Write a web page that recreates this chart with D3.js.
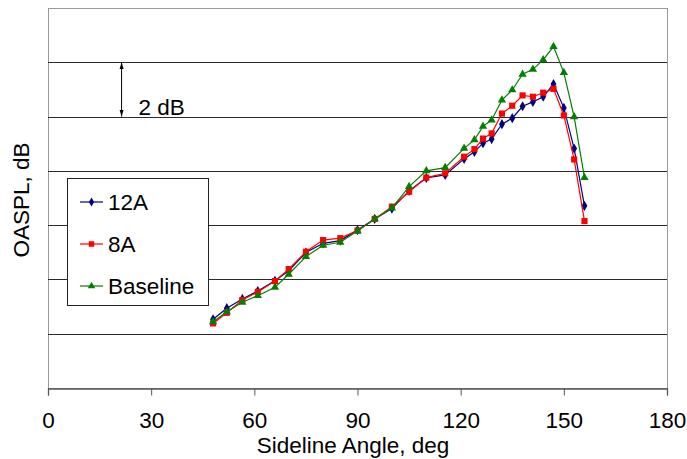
<!DOCTYPE html>
<html>
  <head>
    <meta charset="utf-8" />
    <title>OASPL vs Sideline Angle</title>
    <script src="https://d3js.org/d3.v7.min.js"></script>
    <style>
      body { margin: 0; background: #fff; }
      text { font-family: "Liberation Sans", Arial, sans-serif; }
    </style>
  </head>
  <body>
    <svg id="chart" width="687" height="459"></svg>

    <script>
      // sideline angles, deg
      var angles = [48, 52, 56.5, 61, 66, 70, 75, 80, 85, 90, 95, 100, 105, 110, 115.5,
        121, 124, 126.5, 129, 132, 135, 138, 141, 144, 147, 150, 153, 156];

      // OASPL, dB (relative to chart floor, no absolute scale given)
      var oaspl12A = [2.53, 2.94, 3.28, 3.57, 3.95, 4.32, 4.99, 5.33, 5.43, 5.82, 6.23, 6.61,
        7.26, 7.74, 7.85, 8.44, 8.70, 9.02, 9.17, 9.72, 9.94, 10.38, 10.54, 10.73, 11.20,
        10.32, 8.82, 6.71];
      var oaspl8A = [2.38, 2.77, 3.24, 3.54, 3.94, 4.38, 5.02, 5.45, 5.52, 5.80, 6.23, 6.68,
        7.23, 7.75, 7.91, 8.52, 8.80, 9.19, 9.38, 10.11, 10.40, 10.78, 10.73, 10.88, 11.02,
        10.04, 8.42, 6.15];
      var oasplBase = [2.44, 2.81, 3.16, 3.40, 3.71, 4.19, 4.84, 5.26, 5.37, 5.78, 6.23, 6.63,
        7.42, 8.00, 8.12, 8.83, 9.14, 9.64, 9.87, 10.61, 10.98, 11.56, 11.74, 12.09, 12.58,
        11.62, 9.99, 7.75];

      var xTicks = [0, 30, 60, 90, 120, 150, 180];
      var gridValues = [2, 4, 6, 8, 10, 12];

      var series = [
        { name: "12A", values: oaspl12A, color: "#000080", symbol: d3.symbolDiamond, size: 30 },
        { name: "8A", values: oaspl8A, color: "#ff0000", symbol: d3.symbolSquare, size: 38 },
        { name: "Baseline", values: oasplBase, color: "#008000", symbol: d3.symbolTriangle, size: 30 }
      ];

      var fontSize = 22.5;
      var margin = { left: 48, top: 8, right: 20, bottom: 71 };
      var width = 687 - margin.left - margin.right;
      var height = 459 - margin.top - margin.bottom;

      var svg = d3.select("#chart");
      var g = svg.append("g").attr("transform", "translate(" + margin.left + "," + margin.top + ")");

      var x = d3.scaleLinear().domain([0, 180]).range([0, width]);
      var y = d3.scaleLinear().domain([0, 14]).range([height, 0]);

      // plot frame
      g.append("rect")
        .attr("x", 0.5).attr("y", 0.5)
        .attr("width", width).attr("height", height)
        .attr("fill", "none")
        .attr("stroke", "#9a9a9a");

      // horizontal gridlines
      g.selectAll(".grid")
        .data(gridValues)
        .enter()
        .append("line")
        .attr("class", "grid")
        .attr("x1", 0).attr("x2", width)
        .attr("y1", function (d) { return Math.round(y(d)) + 0.5; })
        .attr("y2", function (d) { return Math.round(y(d)) + 0.5; })
        .attr("stroke", "#2a2a2a")
        .attr("stroke-width", 1);

      // x axis
      var xAxis = g.append("g")
        .attr("transform", "translate(0," + (height + 0.5) + ")")
        .call(d3.axisBottom(x).tickValues(xTicks).tickSize(7).tickPadding(17));
      xAxis.select(".domain").attr("stroke", "#555").attr("stroke-width", 1.3);
      xAxis.selectAll(".tick line").attr("stroke", "#555");
      xAxis.selectAll(".tick text").attr("font-size", fontSize).attr("fill", "#000")
        .style("font-family", "Liberation Sans, Arial, sans-serif");

      // axis titles
      svg.append("text")
        .attr("x", 353)
        .attr("y", 453)
        .attr("text-anchor", "middle")
        .attr("font-size", fontSize)
        .text("Sideline Angle, deg");

      svg.append("text")
        .attr("transform", "translate(29," + 200 + ") rotate(-90)")
        .attr("text-anchor", "middle")
        .attr("font-size", fontSize)
        .text("OASPL, dB");

      // 2 dB scale arrow
      svg.append("defs").append("marker")
        .attr("id", "arrowhead")
        .attr("viewBox", "-5 -5 10 10")
        .attr("refX", 5).attr("refY", 0)
        .attr("markerWidth", 7).attr("markerHeight", 7)
        .attr("markerUnits", "userSpaceOnUse")
        .attr("orient", "auto-start-reverse")
        .append("path")
        .attr("d", "M -5,-3 L 5,0 L -5,3 Z")
        .attr("fill", "#000");

      g.append("line")
        .attr("x1", x(21.4)).attr("x2", x(21.4))
        .attr("y1", y(12)).attr("y2", y(10))
        .attr("stroke", "#000")
        .attr("stroke-width", 1)
        .attr("marker-start", "url(#arrowhead)")
        .attr("marker-end", "url(#arrowhead)");

      g.append("text")
        .attr("x", x(26.3)).attr("y", y(10) - 2)
        .attr("font-size", fontSize)
        .text("2 dB");

      // series lines and markers
      var line = d3.line()
        .x(function (d, i) { return x(angles[i]); })
        .y(function (d) { return y(d); });

      series.forEach(function (s) {
        g.append("path")
          .datum(s.values)
          .attr("d", line)
          .attr("fill", "none")
          .attr("stroke", s.color)
          .attr("stroke-width", 1.2);

        g.selectAll(".pt-" + s.name)
          .data(s.values)
          .enter()
          .append("path")
          .attr("d", d3.symbol().type(s.symbol).size(s.size))
          .attr("transform", function (d, i) {
            return "translate(" + x(angles[i]) + "," + y(d) + ")";
          })
          .attr("fill", s.color);
      });

      // legend
      var legend = svg.append("g").attr("transform", "translate(67,178)");
      legend.append("rect")
        .attr("x", 0.5).attr("y", 0.5)
        .attr("width", 141).attr("height", 127)
        .attr("fill", "#fff")
        .attr("stroke", "#222");

      var rows = legend.selectAll(".row")
        .data(series)
        .enter()
        .append("g")
        .attr("transform", function (d, i) { return "translate(0," + (24 + i * 42) + ")"; });

      rows.append("line")
        .attr("x1", 13).attr("x2", 36)
        .attr("y1", 0).attr("y2", 0)
        .attr("stroke", function (d) { return d.color; })
        .attr("stroke-width", 1.2);

      rows.append("path")
        .attr("d", function (d) { return d3.symbol().type(d.symbol).size(d.size * 0.8)(); })
        .attr("transform", "translate(24.5,0)")
        .attr("fill", function (d) { return d.color; });

      rows.append("text")
        .attr("x", 41).attr("y", 8)
        .attr("font-size", fontSize)
        .text(function (d) { return d.name; });
    </script>
  </body>
</html>
